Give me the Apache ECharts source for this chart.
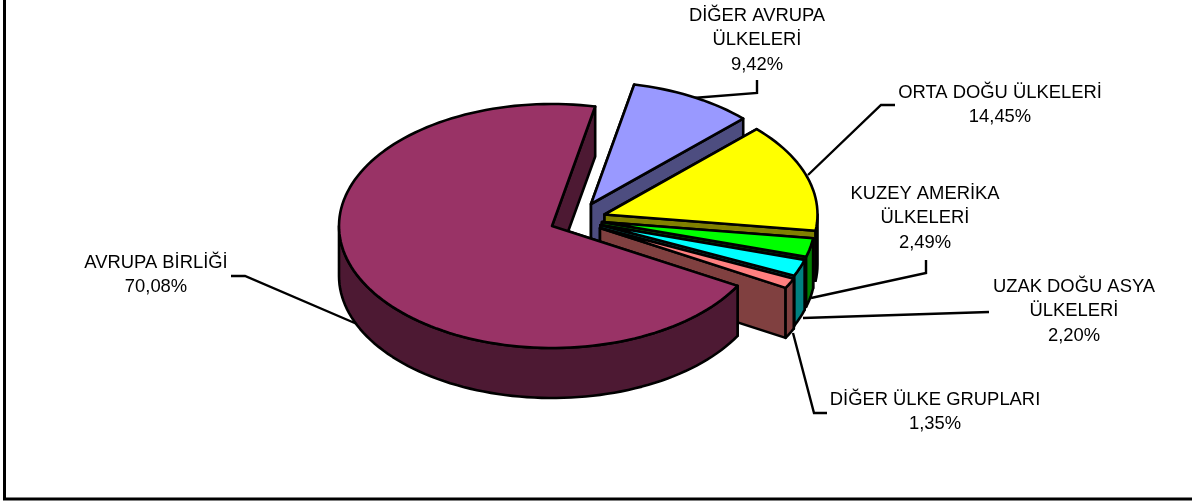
<!DOCTYPE html>
<html>
<head>
<meta charset="utf-8">
<style>
html,body{margin:0;padding:0;background:#fff;}
#main{width:1192px;height:503px;}
</style>
<script src="https://cdn.jsdelivr.net/npm/echarts@6/dist/echarts.min.js"></script>
</head>
<body>
<div id="main"></div>
<script>
// data, drawn back to front, AB last because it overlaps the rest
var categories=['DİĞER AVRUPA\nÜLKELERİ','ORTA DOĞU ÜLKELERİ','KUZEY AMERİKA\nÜLKELERİ','UZAK DOĞU ASYA\nÜLKELERİ','DİĞER ÜLKE GRUPLARI','AVRUPA BİRLİĞİ'];
var shares=[9.42,14.45,2.49,2.20,1.35,70.08];

// colours of each slice
var topColors=['#9999ff','#ffff00','#00ff00','#00ffff','#ff8080','#993366'];
var sideColors=['#4d4d80','#808000','#008000','#008080','#804040','#4d1933'];

// pie layout: ellipse radii, thickness, first slice angle (clockwise from top)
var rx=213,ry=122,depth=50,startAngle=11.7;
// exploded apex of every slice
var apexes=[[591,204],[604.5,214.5],[602,222],[600.5,225],[600,228],[552,226]];
// label centre and leader line of every slice
var labelPos=[[757,40],[1000,105],[925,218],[1074,311],[935,412],[156,275]];
var leaders=[
	[[757,80],[757,93],[693,98]],
	[[895,105],[881,105],[808,175]],
	[[926,260],[926,273],[811,298]],
	[[989,312],[803,318]],
	[[827,413],[814,413],[793,333]],
	[[231,276],[245,276],[357,324]]
];

var total=0;
for(var i=0;i<shares.length;i++){
	total+=shares[i];
}

// point on the rim for an angle in degrees
function rim(c,deg,dy){
	var r=deg*Math.PI/180;
	return [c[0]+rx*Math.sin(r),c[1]-ry*Math.cos(r)+dy];
}

function arc(c,from,to,dy){
	var pts=[];
	var n=Math.max(2,Math.ceil((to-from)/2));
	for(var k=0;k<=n;k++){
		pts.push(rim(c,from+(to-from)*k/n,dy));
	}
	return pts;
}

function poly(pts,fill){
	return {
		type:'polygon',
		shape:{points:pts},
		style:{fill:fill,stroke:'#000',lineWidth:2.6,lineJoin:'round'}
	};
}

function renderSlice(params,api){
	var idx=params.dataIndex;
	var before=0;
	for(var j=0;j<idx;j++){
		before+=shares[j];
	}
	var from=startAngle+before/total*360;
	var to=from+api.value(0)/total*360;
	var c=apexes[idx];
	var side=sideColors[idx];
	var kids=[];
	// the two cut faces
	[from,to].forEach(function(a){
		var p=rim(c,a,0);
		var q=rim(c,a,depth);
		kids.push(poly([c,p,q,[c[0],c[1]+depth]],side));
	});
	// outer wall, only the front half of the ellipse shows
	var a0=Math.max(from,90),a1=Math.min(to,270);
	if(a1>a0){
		kids.push(poly(arc(c,a0,a1,0).concat(arc(c,a0,a1,depth).reverse()),side));
	}
	// top face
	kids.push(poly([c].concat(arc(c,from,to,0)),topColors[idx]));
	return {type:'group',children:kids};
}

function renderLabel(params,api){
	var idx=params.dataIndex;
	var pct=api.value(0).toFixed(2).replace('.',',')+'%';
	return {
		type:'group',
		children:[
			{
				type:'polyline',
				shape:{points:leaders[idx]},
				style:{fill:null,stroke:'#000',lineWidth:2.4}
			},
			{
				type:'text',
				style:{
					x:labelPos[idx][0],y:labelPos[idx][1],
					text:categories[idx]+'\n'+pct,
					fill:'#000',
					font:'18.4px "Liberation Sans", Arial, sans-serif',
					lineHeight:24.5,
					align:'center',
					verticalAlign:'middle'
				}
			}
		]
	};
}

var myChart=echarts.init(document.getElementById('main'),null,{renderer:'canvas'});
var rows=shares.map(function(v){return [v];});
var option={
	animation:false,
	backgroundColor:'#fff',
	graphic:[{
		type:'polyline',
		shape:{points:[[4.5,0],[4.5,499],[1192,499]]},
		style:{fill:null,stroke:'#000',lineWidth:3}
	}],
	series:[
		{type:'custom',coordinateSystem:'none',renderItem:renderLabel,data:rows,silent:true,z:1},
		{type:'custom',coordinateSystem:'none',renderItem:renderSlice,data:rows,silent:true,z:2}
	]
};
myChart.setOption(option);
</script>
</body>
</html>
